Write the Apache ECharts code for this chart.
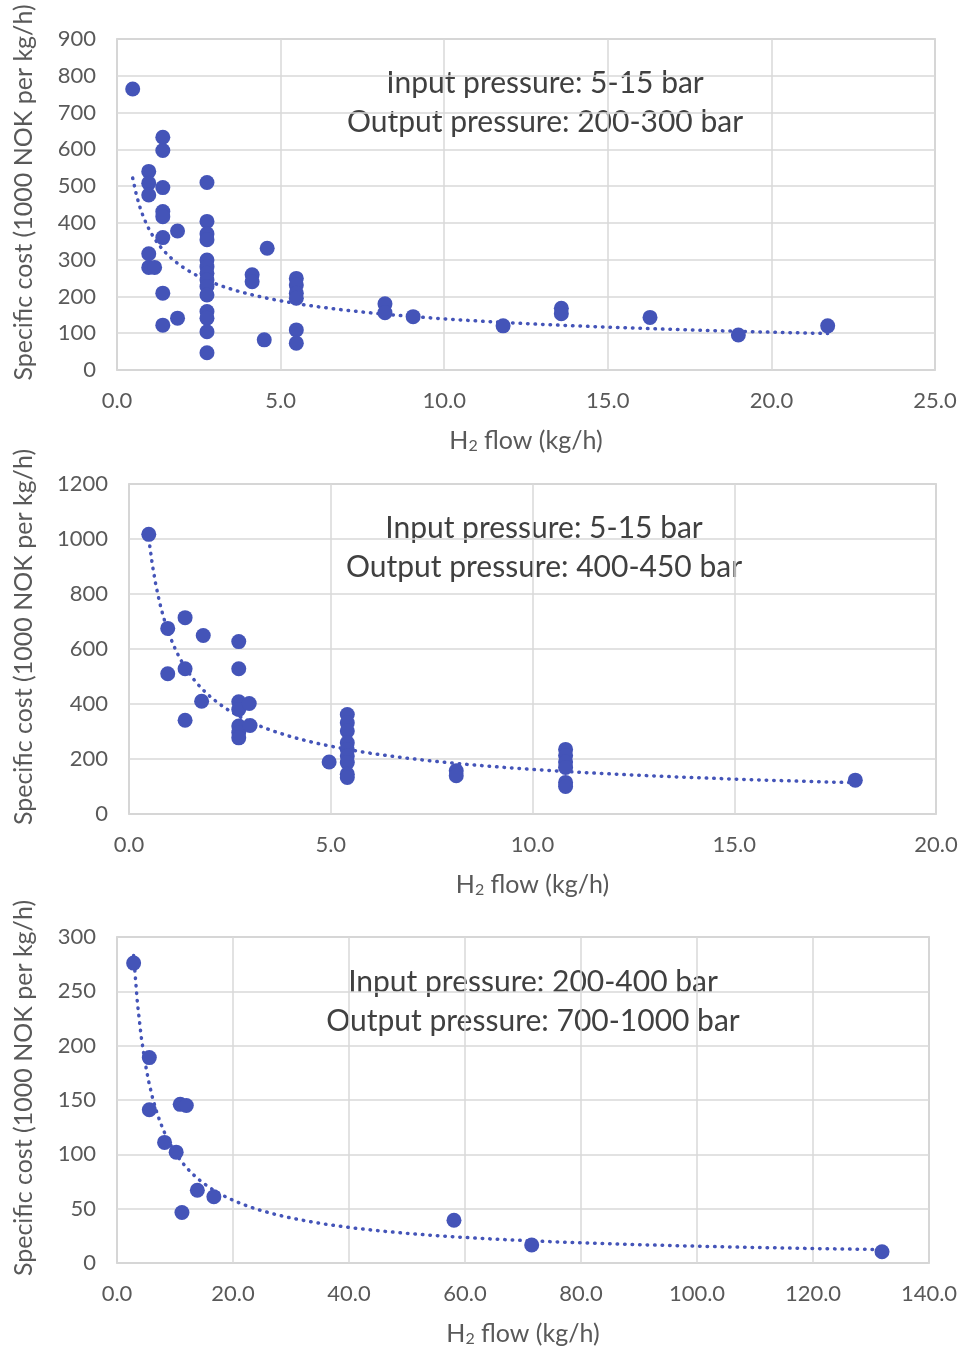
<!DOCTYPE html>
<html>
<head>
<meta charset="utf-8">
<script src="https://cdn.jsdelivr.net/npm/echarts@6/dist/echarts.min.js"></script>
<style>
  html, body { margin: 0; padding: 0; background: #fff; }
  #plot { width: 962px; height: 1352px; }
</style>
</head>
<body>
<div id="plot"></div>
<script>
// 数据
// 图1: 5-15 bar -> 200-300 bar
var flow1 = [0.48,
  1.40, 1.40, 1.40, 1.40, 1.40, 1.40, 1.40, 1.40,
  0.97, 0.97, 0.97, 0.97, 0.97, 1.15,
  1.85, 1.85,
  2.75, 2.75, 2.75, 2.75, 2.75, 2.75, 2.75, 2.75, 2.75, 2.75, 2.75, 2.75, 2.75, 2.75,
  4.13, 4.13, 4.59, 4.50,
  5.48, 5.48, 5.48, 5.48, 5.48, 5.48,
  8.19, 8.19, 9.05, 11.8, 13.58, 13.58, 16.29, 18.99, 21.72];
var cost1 = [764,
  633, 597, 496, 431, 417, 360, 209, 122,
  540, 508, 476, 316, 279, 279,
  378, 141,
  510, 404, 370, 354, 299, 281, 263, 245, 227, 204, 159, 141, 104, 47,
  259, 240, 331, 82,
  249, 231, 209, 195, 109, 73,
  180, 156, 145, 120, 168, 153, 143, 95, 120];

// 图2: 5-15 bar -> 400-450 bar
var flow2 = [0.49,
  0.96, 0.96,
  1.39, 1.39, 1.39,
  1.84, 1.80,
  2.72, 2.72, 2.72, 2.72, 2.72, 2.72, 2.72, 2.98, 3.00,
  4.96,
  5.41, 5.41, 5.41, 5.41, 5.41, 5.41, 5.41, 5.41, 5.41,
  8.11, 8.11,
  10.82, 10.82, 10.82, 10.82, 10.82, 10.82,
  18.0];
var cost2 = [1017,
  675, 510,
  714, 528, 341,
  649, 410,
  627, 528, 408, 380, 320, 296, 277, 402, 322,
  189,
  362, 332, 302, 259, 235, 211, 187, 145, 133,
  157, 139,
  235, 213, 189, 169, 115, 100,
  123];

// 图3: 200-400 bar -> 700-1000 bar
var flow3 = [2.87, 5.57, 5.57, 10.9, 11.95, 8.2, 10.2, 13.85, 16.7, 11.2, 58.1, 71.5, 131.9];
var cost3 = [276, 189, 141, 146, 145, 111, 102, 67, 61, 46.5, 39.4, 16.6, 10.3];

var notes = [
  'Input pressure: 5-15 bar\nOutput pressure: 200-300 bar',
  'Input pressure: 5-15 bar\nOutput pressure: 400-450 bar',
  'Input pressure: 200-400 bar\nOutput pressure: 700-1000 bar'
];

var xName = 'H{sub|2} flow (kg/h)';
var yName = 'Specific cost (1000 NOK per kg/h)';

var blue = '#4454b8';
var textGrey = '#595959';
var font = 'Lato';

// 幂函数趋势线 (同 Excel: ln-ln 最小二乘)
function powerTrend(xs, ys) {
  var n = xs.length, sx = 0, sy = 0, sxy = 0, sxx = 0;
  for (var i = 0; i < n; i++) {
    var lx = Math.log(xs[i]), ly = Math.log(ys[i]);
    sx += lx; sy += ly; sxy += lx * ly; sxx += lx * lx;
  }
  var b = (n * sxy - sx * sy) / (n * sxx - sx * sx);
  var a = Math.exp((sy - b * sx) / n);
  var lo = Math.min.apply(null, xs), hi = Math.max.apply(null, xs);
  var pts = [];
  for (var k = 0; k <= 200; k++) {
    var x = lo + (hi - lo) * k / 200;
    pts.push([x, a * Math.pow(x, b)]);
  }
  return pts;
}

function zip(xs, ys) {
  return xs.map(function (x, i) { return [x, ys[i]]; });
}

var grids = [
  { left: 117, top: 39, width: 818, height: 331 },
  { left: 129, top: 484, width: 807, height: 330 },
  { left: 117, top: 937, width: 812, height: 326 }
];
var xMax = [25, 20, 140], xStep = [5, 5, 20];
var yMax = [900, 1200, 300], yStep = [100, 200, 50];
var noteX = [545, 544, 533], noteY = [64, 509, 963];
var flows = [flow1, flow2, flow3], costs = [cost1, cost2, cost3];

var xAxes = [], yAxes = [], series = [], graphics = [];

grids.forEach(function (g, i) {
  g.show = true;
  g.borderColor = '#c0c0c0';
  g.borderWidth = 1.5;
  g.containLabel = false;

  xAxes.push({
    type: 'value', gridIndex: i, min: 0, max: xMax[i], interval: xStep[i],
    name: xName, nameLocation: 'middle', nameGap: 58,
    nameTextStyle: { fontFamily: font, fontSize: 25, color: textGrey,
      rich: { sub: { fontFamily: font, fontSize: 16, color: textGrey, verticalAlign: 'bottom', padding: [10, 0, 0, 0] } } },
    axisLine: { show: false }, axisTick: { show: false },
    axisLabel: { fontFamily: font, fontSize: 22, color: textGrey, margin: 20,
      formatter: function (v) { return v.toFixed(1); } },
    splitLine: { show: true, lineStyle: { color: '#d9d9d9', width: 1.5 } }
  });

  yAxes.push({
    type: 'value', gridIndex: i, min: 0, max: yMax[i], interval: yStep[i],
    name: yName, nameLocation: 'middle', nameGap: i === 1 ? 93 : 81,
    nameTextStyle: { fontFamily: font, fontSize: 25, color: textGrey, padding: [0, 0, 0, 24] },
    axisLine: { show: false }, axisTick: { show: false },
    axisLabel: { fontFamily: font, fontSize: 22, color: textGrey, margin: 21,
      formatter: function (v) { return String(v); } },
    splitLine: { show: true, lineStyle: { color: '#d9d9d9', width: 1.5 } }
  });

  series.push({
    type: 'line', xAxisIndex: i, yAxisIndex: i,
    data: powerTrend(flows[i], costs[i]),
    showSymbol: false, symbol: 'none', smooth: false, z: 2,
    lineStyle: { color: blue, width: 3.5, type: [0.5, 7], cap: 'round' },
    silent: true
  });

  series.push({
    type: 'scatter', xAxisIndex: i, yAxisIndex: i,
    data: zip(flows[i], costs[i]),
    symbol: 'circle', symbolSize: 15, z: 3,
    itemStyle: { color: blue, opacity: 1 }
  });

  graphics.push({
    type: 'text', x: noteX[i], y: noteY[i],
    style: { text: notes[i], textAlign: 'center', textVerticalAlign: 'top',
      fontFamily: font, fontSize: 30, lineHeight: 39, fill: '#404040' }
  });
});

var myChart = echarts.init(document.getElementById('plot'));
myChart.setOption({
  animation: false,
  backgroundColor: '#fff',
  grid: grids,
  xAxis: xAxes,
  yAxis: yAxes,
  series: series,
  graphic: graphics
});
</script>
</body>
</html>
